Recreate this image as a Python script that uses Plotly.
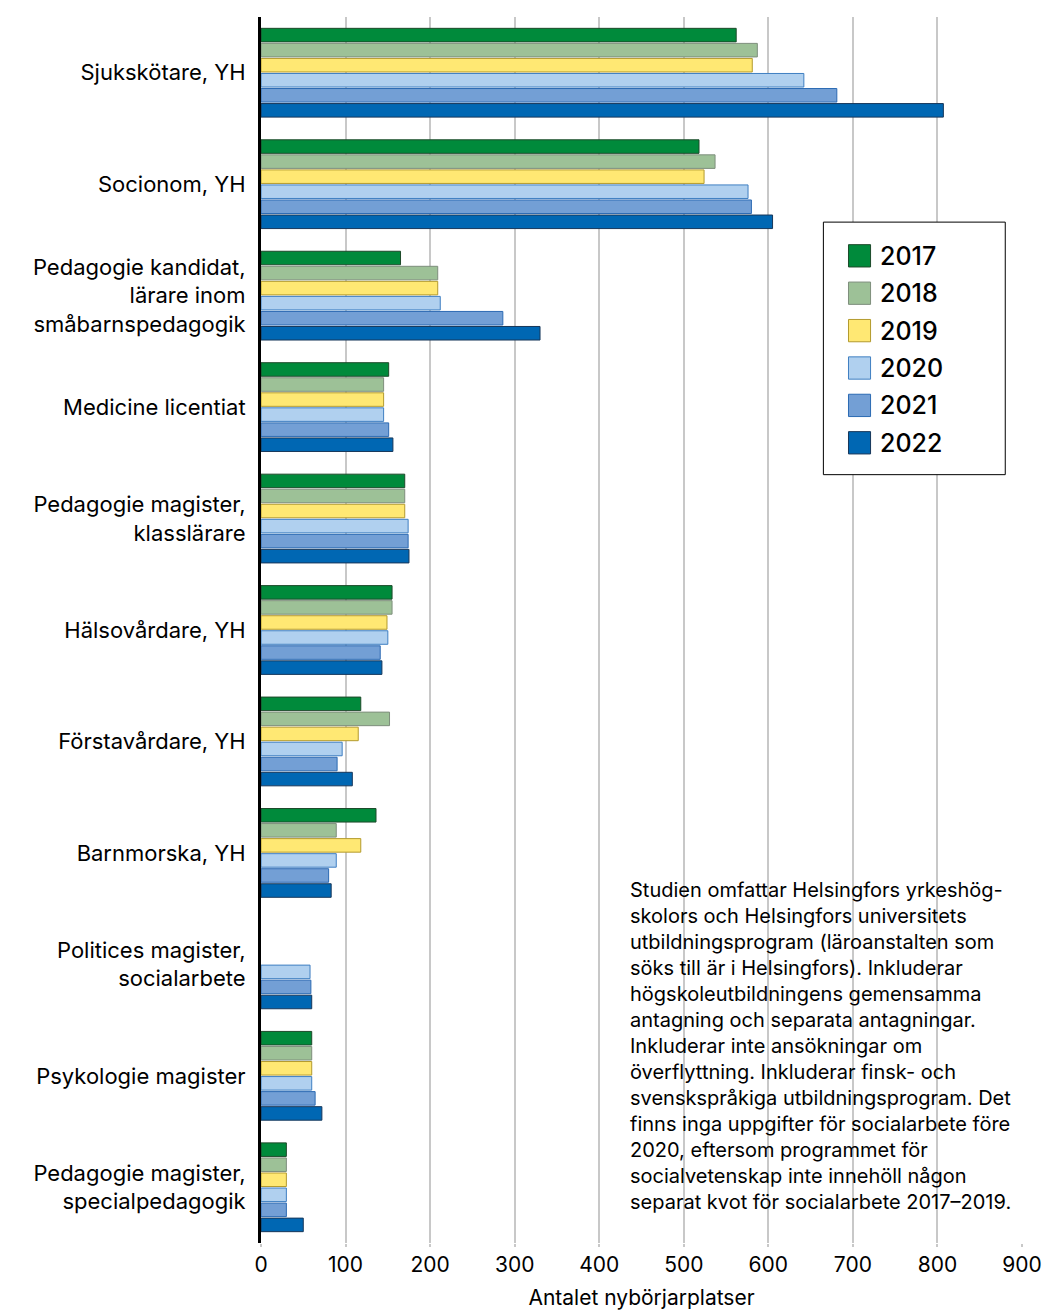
import plotly.graph_objects as go

# Categories, top to bottom
programs = [
    "Sjukskötare, YH",
    "Socionom, YH",
    "Pedagogie kandidat,<br>lärare inom<br>småbarnspedagogik",
    "Medicine licentiat",
    "Pedagogie magister,<br>klasslärare",
    "Hälsovårdare, YH",
    "Förstavårdare, YH",
    "Barnmorska, YH",
    "Politices magister,<br>socialarbete",
    "Psykologie magister",
    "Pedagogie magister,<br>specialpedagogik",
]

years = ["2017", "2018", "2019", "2020", "2021", "2022"]

v2017 = [562, 518, 165, 151, 170, 155, 118, 136, None, 60, 30]
v2018 = [587, 537, 209, 145, 170, 155, 152, 89, None, 60, 30]
v2019 = [581, 524, 209, 145, 170, 149, 115, 118, None, 60, 30]
v2020 = [642, 576, 212, 145, 174, 150, 96, 89, 58, 60, 30]
v2021 = [681, 580, 286, 151, 174, 141, 90, 80, 59, 64, 30]
v2022 = [807, 605, 330, 156, 175, 143, 108, 83, 60, 72, 50]

series = [v2017, v2018, v2019, v2020, v2021, v2022]

fill_colors = ["#008a3b", "#9dc197", "#ffe873", "#b0d0ef", "#739fd5", "#0067b3"]
line_colors = ["#1d4a2a", "#7e8e7c", "#b39a2e", "#3f7fc2", "#2c6ab3", "#17375a"]

note = (
    "Studien omfattar Helsingfors yrkeshög-<br>"
    "skolors och Helsingfors universitets<br>"
    "utbildningsprogram (läroanstalten som<br>"
    "söks till är i Helsingfors). Inkluderar<br>"
    "högskoleutbildningens gemensamma<br>"
    "antagning och separata antagningar.<br>"
    "Inkluderar inte ansökningar om<br>"
    "överflyttning. Inkluderar finsk- och<br>"
    "svenskspråkiga utbildningsprogram. Det<br>"
    "finns inga uppgifter för socialarbete före<br>"
    "2020, eftersom programmet för<br>"
    "socialvetenskap inte innehöll någon<br>"
    "separat kvot för socialarbete 2017–2019."
)

FONT = "Inter, Roboto, sans-serif"

fig = go.Figure()
for year, vals, fc, lc in zip(years, series, fill_colors, line_colors):
    fig.add_trace(go.Bar(
        x=vals, y=programs, orientation="h", name=year,
        marker=dict(color=fc, line=dict(color=lc, width=1)),
        showlegend=False,
    ))

# hand-made legend box (bigger swatches than plotly's legend allows)
fig.add_shape(type="rect", xref="paper", yref="paper",
              x0=0.739, x1=0.978, y0=0.6267, y1=0.8327,
              line=dict(color="black", width=1), fillcolor="white", layer="above")
for i, (year, fc, lc) in enumerate(zip(years, fill_colors, line_colors)):
    yc = 0.8052 - i * 0.0305
    fig.add_shape(type="rect", xref="paper", yref="paper",
                  x0=0.772, x1=0.801, y0=yc - 0.0091, y1=yc + 0.0091,
                  line=dict(color=lc, width=1), fillcolor=fc, layer="above")
    fig.add_annotation(x=0.811, y=yc, xref="paper", yref="paper", text=year,
                       showarrow=False, xanchor="left", yanchor="middle",
                       font=dict(size=25, color="black", family=FONT, weight=500))

fig.add_annotation(x=0.4823, y=0.2995, xref="paper", yref="paper", text=note,
                   showarrow=False, xanchor="left", yanchor="top", align="left",
                   font=dict(size=20, color="black", family=FONT))

fig.update_layout(
    width=1045, height=1311,
    margin=dict(l=261, r=23, t=17, b=68),
    barmode="group", bargap=0.19, bargroupgap=0.1,
    plot_bgcolor="white", paper_bgcolor="white",
    font=dict(family=FONT, color="black"),
)
fig.update_xaxes(
    range=[0, 900], dtick=100, showgrid=True, gridcolor="#c8c8c8", gridwidth=1.5,
    ticks="outside", ticklen=3, tickcolor="#c8c8c8", tickwidth=1.5,
    tickfont=dict(size=21), zeroline=False, showline=False, automargin=False,
    title=dict(text="Antalet nybörjarplatser", font=dict(size=21), standoff=14),
)
fig.update_yaxes(
    autorange="reversed", showline=True, linecolor="black", linewidth=3,
    ticks="", tickfont=dict(size=22), ticklabelstandoff=8, showgrid=False,
    automargin=False,
)

# drop the browser's default 8px body margin so the figure fills the window
fig.write_html("out.html", config={"displayModeBar": False},
               post_script="document.body.style.margin='0';")
